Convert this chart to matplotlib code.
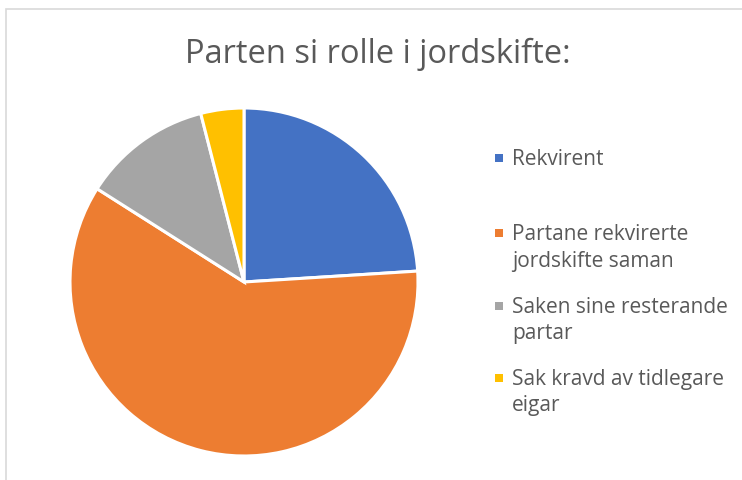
import matplotlib
matplotlib.use("Agg")
import matplotlib.pyplot as plt
from matplotlib.patches import Rectangle

title = "Parten si rolle i jordskifte:"
categories = ["Rekvirent", "Partane rekvirerte\njordskifte saman",
              "Saken sine resterande\npartar", "Sak kravd av tidlegare\neigar"]
values = [24, 60, 12, 4]
colors = ["#4472C4", "#ED7D31", "#A5A5A5", "#FFC000"]

W, H = 742, 481
fig = plt.figure(figsize=(W / 100, H / 100), dpi=100)
fig.patch.set_facecolor("white")

# chart-area border (partly cropped in the reference)
fig.add_artist(Rectangle((6 / W, -0.05), 1.2, 1.05 - 10 / H, transform=fig.transFigure,
                         fill=False, edgecolor="#D9D9D9", linewidth=1.2))

cx, cy, r = 244, 283, 174
ax = fig.add_axes([(cx - r) / W, (H - cy - r) / H, 2 * r / W, 2 * r / H])
ax.pie(values, colors=colors, startangle=90, counterclock=False, radius=1,
       wedgeprops=dict(edgecolor="white", linewidth=2.2))
ax.set_xlim(-1.0, 1.0)
ax.set_ylim(-1.0, 1.0)
ax.set_aspect("equal")
ax.axis("off")

fam = ["Open Sans", "DejaVu Sans"]
fig.text(377.5 / W, 1 - 63 / H, title, ha="center", va="baseline",
         fontsize=23.5, color="#595959", family=fam)

baselines = [165, 240, 313, 385]
line_gap = 26.5
for lab, col, y in zip(categories, colors, baselines):
    fig.add_artist(Rectangle((495 / W, 1 - (y - 2) / H), 8 / W, 8 / H,
                             transform=fig.transFigure, facecolor=col, edgecolor="none"))
    for i, line in enumerate(lab.split("\n")):
        fig.text(512 / W, 1 - (y + i * line_gap) / H, line, ha="left", va="baseline",
                 fontsize=15, color="#595959", family=fam)

fig.savefig("out.png", dpi=100)
